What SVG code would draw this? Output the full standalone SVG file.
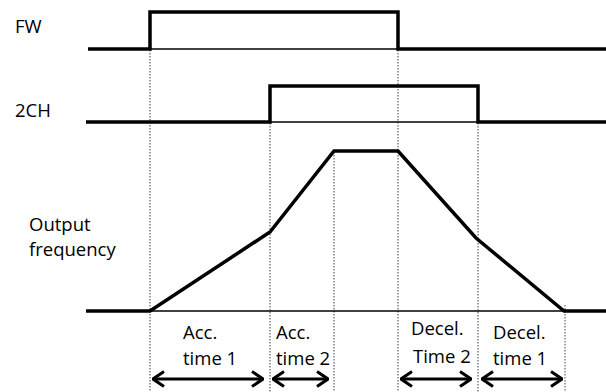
<svg xmlns="http://www.w3.org/2000/svg" width="606" height="392" viewBox="0 0 606 392">
<defs>
<style>
.t{font-family:"Open Sans","Liberation Sans",sans-serif;font-size:18.5px;fill:#000}
.thick{fill:none;stroke:#000;stroke-width:3.5;stroke-linejoin:miter;stroke-linecap:butt}
.thin{fill:none;stroke:#000;stroke-width:1.5}
.dot{fill:none;stroke:#444;stroke-width:1;stroke-dasharray:1.5,1.5}
.arr{fill:none;stroke:#000;stroke-width:3}
</style>
<marker id="ah" viewBox="0 0 13 18" refX="12" refY="9" markerWidth="13" markerHeight="18" markerUnits="userSpaceOnUse" orient="auto-start-reverse">
<path d="M1,1.5 L12,9 L1,16.5" fill="none" stroke="#000" stroke-width="3"/>
</marker>
</defs>
<rect width="606" height="392" fill="#fff"/>
<g id="guides">
<line class="dot" x1="150" y1="50" x2="150" y2="392"/>
<line class="dot" x1="270" y1="123" x2="270" y2="392"/>
<line class="dot" x1="334" y1="152" x2="334" y2="392"/>
<line class="dot" x1="398" y1="50" x2="398" y2="392"/>
<line class="dot" x1="478" y1="123" x2="478" y2="392"/>
<line class="dot" x1="565" y1="305" x2="565" y2="392"/>
</g>
<g id="fw">
<text class="t" x="15" y="33">FW</text>
<line class="thin" x1="150" y1="49" x2="398" y2="49"/>
<polyline class="thick" points="88,49 150,49 150,12 398,12 398,49 606,49"/>
</g>
<g id="ch2">
<text class="t" x="15" y="117">2CH</text>
<line class="thin" x1="270" y1="122" x2="478" y2="122"/>
<polyline class="thick" points="86,122 270,122 270,86 478,86 478,122 606,122"/>
</g>
<g id="freq">
<text class="t" x="29" y="231">Output</text>
<text class="t" x="29" y="256">frequency</text>
<line class="thin" x1="150" y1="311" x2="565" y2="311"/>
<polyline class="thick" points="86,311 150,311 270,232 334,151 398,151 476,238 564,311 606,311"/>
</g>
<g id="connectors">
<line class="arr" x1="153" y1="379" x2="263" y2="379" marker-start="url(#ah)" marker-end="url(#ah)"/>
<line class="arr" x1="273" y1="379" x2="328" y2="379" marker-start="url(#ah)" marker-end="url(#ah)"/>
<line class="arr" x1="401" y1="379" x2="471" y2="379" marker-start="url(#ah)" marker-end="url(#ah)"/>
<line class="arr" x1="482" y1="379" x2="562" y2="379" marker-start="url(#ah)" marker-end="url(#ah)"/>
</g>
<g id="labels">
<text class="t" x="183" y="339">Acc.</text>
<text class="t" x="183" y="365">time 1</text>
<text class="t" x="276" y="339">Acc.</text>
<text class="t" x="276" y="365">time 2</text>
<text class="t" x="411" y="335">Decel.</text>
<text class="t" x="413" y="363">Time 2</text>
<text class="t" x="493" y="339">Decel.</text>
<text class="t" x="493" y="365">time 1</text>
</g>
</svg>
